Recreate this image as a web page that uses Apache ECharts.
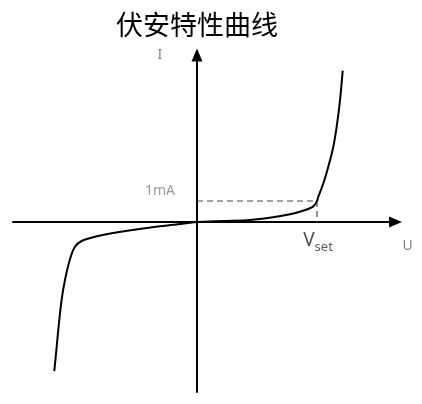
<!DOCTYPE html>
<html>
<head>
<meta charset="utf-8">
<script src="https://cdn.jsdelivr.net/npm/echarts@6/dist/echarts.min.js"></script>
<style>
html,body{margin:0;padding:0;background:#fff;}
#chart{width:422px;height:404px;}
</style>
</head>
<body>
<div id="chart"></div>
<script>
// Data (U in units of V_set, I in mA)
var titleText = '伏安特性曲线';
var xName = 'U';
var yName = 'I';
var xRange = [-1.533, 1.654];
var yRange = [-8.095, 7.952];
var forwardU = [0, 0.217, 0.442, 0.633, 0.775, 0.883, 0.967, 1.0, 1.011, 1.053, 1.094, 1.136, 1.164, 1.192, 1.214];
var forwardI = [0, 0.048, 0.095, 0.224, 0.367, 0.538, 0.729, 1.0, 1.205, 1.843, 2.633, 3.586, 4.538, 5.81, 7.205];
var reverseU = [0, -0.158, -0.433, -0.711, -0.85, -0.961, -1.017, -1.058, -1.1, -1.128, -1.15, -1.169, -1.189];
var reverseI = [0, -0.11, -0.3, -0.538, -0.7, -0.905, -1.176, -1.76, -2.76, -3.71, -4.81, -5.94, -7.1];
var vSet = 1.0;
var iSet = 1.0;
var iSetLabel = '1mA';
var vSetMain = 'V';
var vSetSub = 'set';

function zip(a, b) { return a.map(function (v, i) { return [v, b[i]]; }); }
var curve = zip(reverseU, reverseI).reverse().concat(zip(forwardU, forwardI).slice(1));

var chart = echarts.init(document.getElementById('chart'), null, {renderer: 'canvas'});
var gray = '#808080';
var font = 'Noto Sans';
chart.setOption({
  animation: false,
  backgroundColor: '#fff',
  title: {
    text: titleText,
    left: 111,
    top: 6,
    textStyle: {fontSize: 27, fontWeight: 'normal', color: '#000', fontFamily: 'Noto Sans CJK SC'}
  },
  grid: {left: 13, right: 26.5, top: 55, bottom: 12, containLabel: false},
  xAxis: {
    type: 'value', min: xRange[0], max: xRange[1],
    name: xName, nameLocation: 'end', nameGap: 7,
    nameTextStyle: {color: gray, fontSize: 14, fontFamily: font, verticalAlign: 'top', padding: [17, 0, 0, 0]},
    axisLine: {onZero: true, symbol: ['none', 'triangle'], symbolSize: [11, 13], lineStyle: {color: '#000', width: 2}},
    axisTick: {show: false}, axisLabel: {show: false}, splitLine: {show: false}
  },
  yAxis: {
    type: 'value', min: yRange[0], max: yRange[1],
    name: yName, nameLocation: 'end', nameGap: 0,
    nameTextStyle: {color: gray, fontSize: 14, fontFamily: font, align: 'center', verticalAlign: 'middle', padding: [0, 74, 0, 0]},
    axisLine: {onZero: true, symbol: ['none', 'triangle'], symbolSize: [11, 13], lineStyle: {color: '#000', width: 2}},
    axisTick: {show: false}, axisLabel: {show: false}, splitLine: {show: false}
  },
  series: [
    {
      type: 'line', data: [[0, iSet], [vSet, iSet], [vSet, 0]],
      symbol: 'none', silent: true, z: 1,
      lineStyle: {color: '#444', width: 1.2, type: [6, 4]}
    },
    {
      type: 'line', data: curve, smooth: 0.3, symbol: 'none', silent: true, z: 3,
      lineStyle: {color: '#000', width: 2}
    },
    {
      type: 'scatter', symbolSize: 0, silent: true, z: 4,
      data: [
        {value: [0, iSet], label: {show: true, position: 'inside', offset: [-37, -10], formatter: iSetLabel, color: gray, fontSize: 14, fontFamily: font}},
        {value: [vSet, 0], label: {show: true, position: 'inside', offset: [1, 20],
          formatter: '{v|' + vSetMain + '}{s|' + vSetSub + '}',
          rich: {
            v: {fontSize: 19, color: '#222', fontFamily: font, lineHeight: 22, verticalAlign: 'top'},
            s: {fontSize: 13, color: '#333', fontFamily: font, lineHeight: 14, verticalAlign: 'top', padding: [10, 0, 0, 0]}
          }}}
      ]
    }
  ]
});
</script>
</body>
</html>
